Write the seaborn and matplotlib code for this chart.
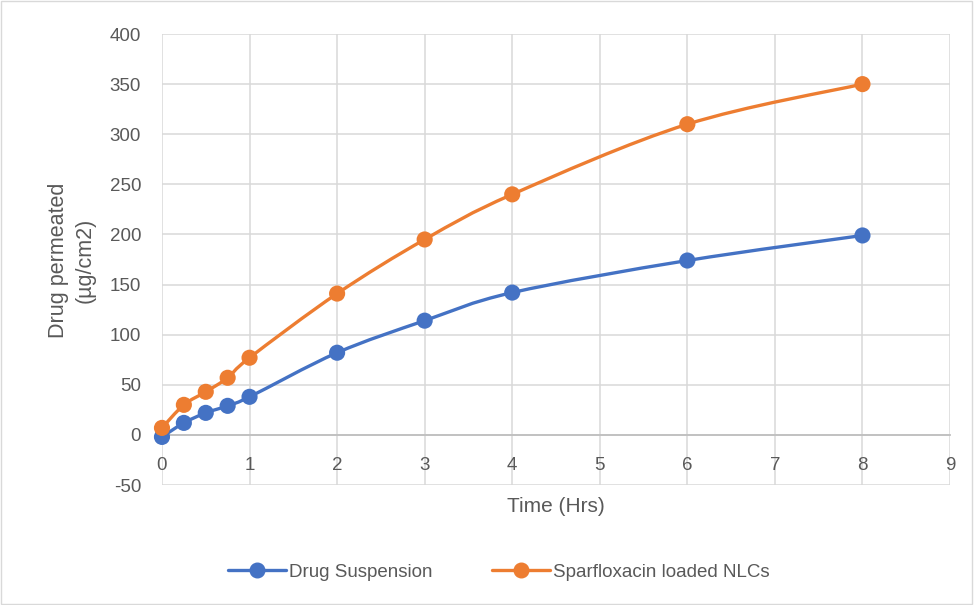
import numpy as np
import pandas as pd
import matplotlib
matplotlib.use("Agg")
import matplotlib.pyplot as plt
from matplotlib.path import Path
from matplotlib.patches import PathPatch, Rectangle
from matplotlib.lines import Line2D
import seaborn as sns

time_hrs = [0, 0.25, 0.5, 0.75, 1, 2, 3, 4, 6, 8]
drug_suspension = [-2, 12, 22, 29, 38, 82, 114, 142, 174, 199]
nlcs = [7, 30, 43, 57, 77, 141, 195, 240, 310, 350]
series_names = ["Drug Suspension", "Sparfloxacin loaded NLCs"]
colors = ["#4472C4", "#ED7D31"]
y_ticks = [-50, 0, 50, 100, 150, 200, 250, 300, 350, 400]
x_ticks = list(range(0, 10))

sns.set_theme(style="white")
plt.rcParams['font.family'] = ['Liberation Sans', 'DejaVu Sans']
plt.rcParams['axes.unicode_minus'] = False

df = pd.DataFrame({
    "Time": time_hrs * 2,
    "Value": drug_suspension + nlcs,
    "Series": [series_names[0]] * len(time_hrs) + [series_names[1]] * len(time_hrs),
})

fig = plt.figure(figsize=(9.74, 6.05), dpi=100)
ax = fig.add_axes([0.1663, 0.1983, 0.8091, 0.7455])

gray_txt = "#595959"


def smooth_path(xs, ys):
    pts = np.column_stack([xs, ys]).astype(float)
    n = len(pts)
    verts = [pts[0]]
    codes = [Path.MOVETO]
    for i in range(n - 1):
        p0 = pts[i - 1] if i > 0 else pts[i]
        p1 = pts[i]
        p2 = pts[i + 1]
        p3 = pts[i + 2] if i + 2 < n else pts[i + 1]
        c1 = p1 + (p2 - p0) / 6.0
        c2 = p2 - (p3 - p1) / 6.0
        verts += [c1, c2, p2]
        codes += [Path.CURVE4] * 3
    return Path(verts, codes)


for name, col in zip(series_names, colors):
    sub = df[df["Series"] == name]
    patch = PathPatch(smooth_path(sub["Time"].values, sub["Value"].values),
                      facecolor="none", edgecolor=col, lw=2.4, zorder=3,
                      capstyle="round", joinstyle="round")
    ax.add_patch(patch)

sns.scatterplot(data=df, x="Time", y="Value", hue="Series", palette=colors,
                s=135, edgecolor="none", zorder=4, ax=ax, legend=False,
                clip_on=False)

ax.set_xlim(0, 9)
ax.set_ylim(-50, 400)
ax.set_xticks(x_ticks)
ax.set_yticks(y_ticks)
ax.grid(True, color="#D9D9D9", lw=1.1)
ax.set_axisbelow(True)
for s in ["top", "right", "left"]:
    ax.spines[s].set_visible(False)
ax.spines["bottom"].set_position(("data", 0))
ax.spines["bottom"].set_color("#BFBFBF")
ax.spines["bottom"].set_linewidth(1.3)
ax.spines["bottom"].set_zorder(2.5)
ax.tick_params(axis="both", length=0, labelsize=13.5, labelcolor=gray_txt)
ax.tick_params(axis="x", pad=16)
ax.tick_params(axis="y", pad=15)

ax.set_xlabel("")
ax.set_ylabel("")
fig.text(0.571, 0.162, "Time (Hrs)", ha="center", va="center",
         fontsize=15, color=gray_txt)
fig.text(0.074, 0.57, "Drug permeated\n(µg/cm2)", ha="center", va="center",
         rotation=90, fontsize=15.5, color=gray_txt, linespacing=1.35)

handles = [Line2D([0], [0], color=c, lw=2.4, marker="o", markersize=10.5)
           for c in colors]
fig.legend(handles, series_names, loc="center", bbox_to_anchor=(0.512, 0.054),
           ncol=2, frameon=False, fontsize=13.5, labelcolor=gray_txt,
           handlelength=3.1, handletextpad=0.15, columnspacing=3.2)

fig.patches.append(Rectangle((0.001, 0.001), 0.997, 0.997, transform=fig.transFigure,
                             fill=False, edgecolor="#D9D9D9", lw=1))

fig.savefig("out.png", dpi=100)
